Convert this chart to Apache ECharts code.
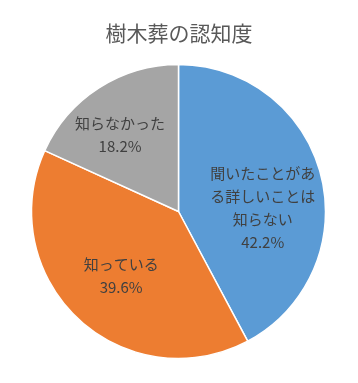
<!DOCTYPE html>
<html>
<head>
<meta charset="utf-8">
<script src="https://cdn.jsdelivr.net/npm/echarts@6/dist/echarts.min.js"></script>
<style>html,body{margin:0;padding:0;background:#fff}#c{width:358px;height:383px}</style>
</head>
<body>
<div id="c"></div>
<script>
const title = '樹木葬の認知度';
const categories = ['聞いたことがある詳しいことは知らない', '知っている', '知らなかった'];
const values = [42.2, 39.6, 18.2];
const colors = ['#5B9BD5', '#ED7D31', '#A5A5A5'];
const labelShift = [[10, 15], [-5, 9], [-17, -12]];

const chart = echarts.init(document.getElementById('c'));
chart.setOption({
  animation: false,
  backgroundColor: '#fff',
  title: {
    text: title, left: 'center', top: 18,
    textStyle: { fontFamily: 'Noto Sans CJK JP', fontSize: 21, fontWeight: 'normal', color: '#595959' }
  },
  series: [{
    type: 'pie',
    center: [178.5, 211.5],
    radius: 147,
    startAngle: 90,
    clockwise: true,
    data: categories.map((n, i) => ({ name: n, value: values[i], itemStyle: { color: colors[i] } })),
    itemStyle: { borderColor: '#fff', borderWidth: 1.5 },
    label: {
      position: 'inside',
      fontFamily: 'Noto Sans CJK JP',
      fontSize: 15,
      lineHeight: 23,
      color: '#404040',
      align: 'center',
      formatter: p => p.name.match(/.{1,7}/g).join('\n') + '\n' + p.value.toFixed(1) + '%'
    },
    labelLayout: p => ({ dx: labelShift[p.dataIndex][0], dy: labelShift[p.dataIndex][1] }),
    emphasis: { disabled: true }
  }]
});
</script>
</body>
</html>
